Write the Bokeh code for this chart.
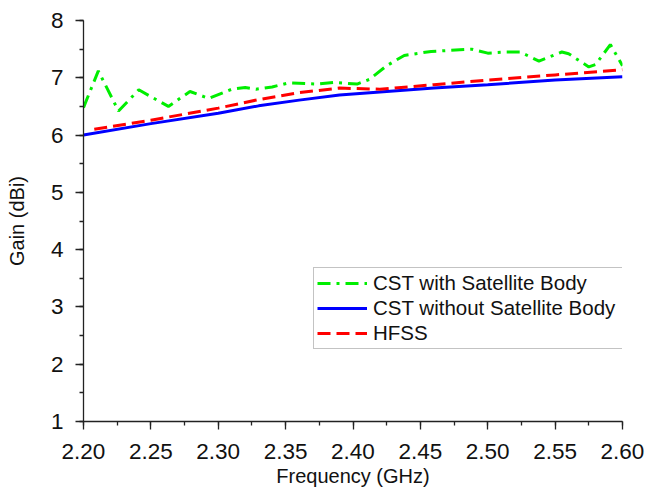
from bokeh.plotting import figure
from bokeh.models import FixedTicker, Legend, LegendItem, NumeralTickFormatter, Range1d
from bokeh.embed import file_html
from bokeh.resources import INLINE

# CST with Satellite Body
freq_cst_sat = [2.200, 2.211, 2.226, 2.241, 2.263, 2.279, 2.293, 2.310, 2.320, 2.328,
                2.340, 2.352, 2.373, 2.386, 2.403, 2.412, 2.425, 2.438, 2.458, 2.488,
                2.500, 2.514, 2.524, 2.538, 2.555, 2.560, 2.575, 2.580, 2.591, 2.600]
gain_cst_sat = [6.48, 7.12, 6.42, 6.79, 6.50, 6.76, 6.64, 6.80, 6.83, 6.80,
                6.84, 6.91, 6.89, 6.92, 6.89, 6.97, 7.21, 7.39, 7.46, 7.50,
                7.43, 7.45, 7.45, 7.29, 7.45, 7.42, 7.19, 7.23, 7.58, 7.21]

# CST without Satellite Body
freq_cst = [2.20, 2.25, 2.30, 2.33, 2.36, 2.39, 2.42, 2.46, 2.50, 2.55, 2.60]
gain_cst = [6.00, 6.20, 6.38, 6.51, 6.61, 6.70, 6.75, 6.82, 6.88, 6.96, 7.02]

# HFSS
freq_hfss = [2.208, 2.25, 2.30, 2.33, 2.36, 2.39, 2.42, 2.46, 2.50, 2.55, 2.60]
gain_hfss = [6.10, 6.26, 6.47, 6.62, 6.74, 6.82, 6.80, 6.88, 6.96, 7.05, 7.14]

x_ticks = [2.20, 2.25, 2.30, 2.35, 2.40, 2.45, 2.50, 2.55, 2.60]
y_ticks = [1, 2, 3, 4, 5, 6, 7, 8]

FONT = "Liberation Sans"

p = figure(width=648, height=497, output_backend="svg", toolbar_location=None,
           x_range=Range1d(2.2, 2.6), y_range=Range1d(1, 8),
           min_border_left=83, min_border_right=26, min_border_top=20, min_border_bottom=76)
p.outline_line_color = None
p.xgrid.visible = False
p.ygrid.visible = False
p.background_fill_color = "white"

x_minor = [round(2.2 + 0.025 * i, 3) for i in range(17)]
y_minor = [1 + 0.5 * i for i in range(15)]
p.xaxis.ticker = FixedTicker(ticks=x_ticks, minor_ticks=x_minor)
p.yaxis.ticker = FixedTicker(ticks=y_ticks, minor_ticks=y_minor)
p.xaxis.formatter = NumeralTickFormatter(format="0.00")

for ax in (p.xaxis, p.yaxis):
    ax.axis_line_color = "#222222"
    ax.axis_line_width = 1.3
    ax.major_tick_line_color = "#222222"
    ax.minor_tick_line_color = "#222222"
    ax.major_tick_line_width = 1.3
    ax.minor_tick_line_width = 1.3
    ax.major_tick_in = 0
    ax.major_tick_out = 8
    ax.minor_tick_in = 0
    ax.minor_tick_out = 4
    ax.major_label_text_font = FONT
    ax.major_label_text_font_size = "22.5px"
    ax.major_label_text_color = "#111111"
    ax.axis_label_text_font = FONT
    ax.axis_label_text_font_size = "20px"
    ax.axis_label_text_font_style = "normal"
    ax.axis_label_text_color = "#111111"

p.xaxis.axis_label = "Frequency (GHz)"
p.yaxis.axis_label = "Gain (dBi)"
p.xaxis.major_label_standoff = 14
p.yaxis.major_label_standoff = 12
p.xaxis.axis_label_standoff = 3
p.yaxis.axis_label_standoff = 20

r_sat = p.line(freq_cst_sat, gain_cst_sat, line_color="#00ee00", line_width=3,
               line_dash="13 6 3 6")
r_cst = p.line(freq_cst, gain_cst, line_color="#0000ff", line_width=3)
r_hfss = p.line(freq_hfss, gain_hfss, line_color="#ff0000", line_width=3,
                line_dash="13 6")

legend = Legend(items=[
    LegendItem(label="CST with Satellite Body", renderers=[r_sat]),
    LegendItem(label="CST without Satellite Body", renderers=[r_cst]),
    LegendItem(label="HFSS", renderers=[r_hfss]),
], location=(230, 72))
legend.label_text_font = FONT
legend.label_text_font_size = "20.5px"
legend.label_text_color = "#111111"
legend.glyph_width = 50
legend.glyph_height = 24
legend.label_height = 24
legend.label_width = 247
legend.spacing = 1
legend.padding = 3
legend.margin = 0
legend.label_standoff = 6
legend.border_line_color = "#888888"
legend.border_line_width = 1.3
legend.background_fill_alpha = 1.0
p.add_layout(legend, "center")

open("out.html", "w").write(file_html(p, INLINE))
